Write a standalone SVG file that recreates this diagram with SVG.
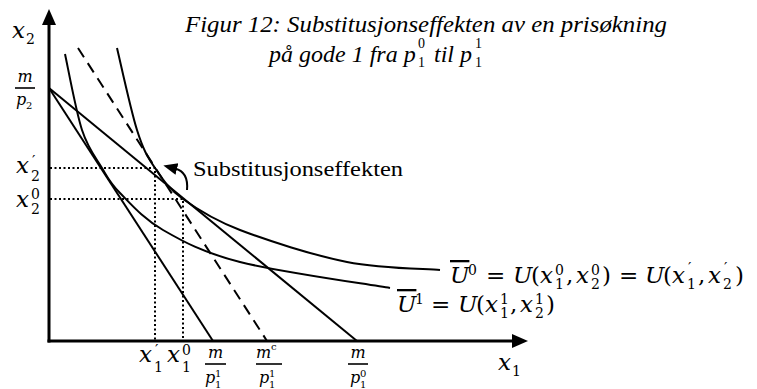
<svg xmlns="http://www.w3.org/2000/svg" width="757" height="389" viewBox="0 0 757 389">
<defs>
<marker id="ah" markerUnits="userSpaceOnUse" markerWidth="14" markerHeight="14" viewBox="0 0 14 14" refX="2" refY="7" orient="auto"><path d="M0,1 L14,7 L0,13 z" fill="#000"/></marker>
</defs>
<style>
text{font-family:'DejaVu Serif',serif;fill:#000}
.m{font-size:23px}
.i{font-style:italic}
.s{font-size:14px;font-style:normal}
.f{font-size:16px;font-style:italic}
.fs{font-size:10px;font-style:normal}
.ln{stroke:#000;stroke-width:2;fill:none}
.ax{stroke:#000;stroke-width:3;fill:none}
.bar{stroke:#000;stroke-width:1.6}
.dot{stroke:#000;stroke-width:2;stroke-dasharray:2 2.5;fill:none}
.dash{stroke:#000;stroke-width:2;stroke-dasharray:11 7;fill:none}
.ol{text-decoration:overline}
.lib{font-family:'Liberation Serif',serif}
</style>
<rect width="757" height="389" fill="#fff"/>

<g id="title">
<text class="i lib" font-size="24" x="185" y="32" textLength="482" lengthAdjust="spacingAndGlyphs">Figur 12: Substitusjonseffekten av en prisøkning</text>
<text class="i lib" font-size="24" y="62"><tspan x="269">på gode 1 fra p</tspan><tspan class="s" x="418" y="48">0</tspan><tspan class="s" x="418" y="67">1</tspan><tspan x="434" y="62">til p</tspan><tspan class="s" x="475" y="48">1</tspan><tspan class="s" x="475" y="67">1</tspan></text>
</g>

<g id="axes">
<line class="ax" x1="49" y1="22" x2="49" y2="342.5"/>
<line class="ax" x1="47.5" y1="341" x2="514" y2="341"/>
<polygon points="49,9 42,25 56,25" fill="#000"/>
<polygon points="528,341 512,334 512,348" fill="#000"/>
<text class="m i" x="12" y="38">x</text><text class="s" x="26" y="44">2</text>
<text class="m i" x="498" y="370">x</text><text class="s" x="512" y="376">1</text>
</g>

<g id="guides">
<polyline class="dot" points="50,168 155,168 155,340"/>
<polyline class="dot" points="50,199 183,199 183,340"/>
</g>

<g id="connectors">
<line id="budget0" class="ln" x1="49" y1="88" x2="357" y2="341"/>
<line id="budget1" class="ln" x1="49" y1="88" x2="213" y2="341"/>
<line id="compensated" class="dash" x1="78" y1="48" x2="267" y2="341"/>
<path id="U0" class="ln" d="M117,48 C120.3,61.7 130.7,110 137,130 C143.3,150 147.3,156.5 155,168 C162.7,179.5 168.8,188.7 183,199 C197.2,209.3 212.7,219.5 240,230 C267.3,240.5 313.7,255.3 347,262 C380.3,268.7 424.5,268.7 440,270"/>
<path id="U1" class="ln" d="M65,54 C67.8,66.7 75.8,111 82,130 C88.2,149 95.7,157.5 102,168 C108.3,178.5 109.8,182.7 120,193 C130.2,203.3 143,218.5 163,230 C183,241.5 202.2,252.3 240,262 C277.8,271.7 365,283.7 390,288"/>
<path id="subst-arrow" class="ln" d="M187,190 C188,179 185,171 175,168.5" marker-end="url(#ah)"/>
</g>

<g id="label-subst">
<text class="lib" font-size="21" x="193" y="176" textLength="210" lengthAdjust="spacingAndGlyphs">Substitusjonseffekten</text>
</g>

<g id="label-mp2">
<text class="f" x="25" y="82" text-anchor="middle">m</text>
<line class="bar" x1="15" y1="88" x2="35" y2="88"/>
<text class="f"><tspan x="16" y="105">p</tspan><tspan class="fs" x="26" y="109">2</tspan></text>
</g>

<g id="labels-y">
<text class="m"><tspan class="i" x="16" y="173">x</tspan><tspan font-size="15" x="32" y="166">′</tspan><tspan class="s" x="31" y="181">2</tspan></text>
<text class="m"><tspan class="i" x="16" y="207">x</tspan><tspan class="s" x="31" y="199">0</tspan><tspan class="s" x="31" y="214">2</tspan></text>
</g>

<g id="labels-x">
<text class="m"><tspan class="i" x="139" y="362">x</tspan><tspan font-size="15" x="155" y="355">′</tspan><tspan class="s" x="154" y="372">1</tspan></text>
<text class="m"><tspan class="i" x="167" y="362">x</tspan><tspan class="s" x="182" y="355">0</tspan><tspan class="s" x="182" y="372">1</tspan></text>
<text class="f" x="215.5" y="358" text-anchor="middle">m</text>
<line class="bar" x1="205" y1="364" x2="226" y2="364"/>
<text class="f"><tspan x="205" y="383">p</tspan><tspan class="fs" x="215" y="377">1</tspan><tspan class="fs" x="215" y="388">1</tspan></text>
<text class="f"><tspan x="256" y="358">m</tspan><tspan class="fs" x="271" y="350" font-style="italic">c</tspan></text>
<line class="bar" x1="256" y1="364" x2="282" y2="364"/>
<text class="f"><tspan x="259" y="383">p</tspan><tspan class="fs" x="269" y="377">1</tspan><tspan class="fs" x="269" y="388">1</tspan></text>
<text class="f" x="358" y="358" text-anchor="middle">m</text>
<line class="bar" x1="348" y1="364" x2="368" y2="364"/>
<text class="f"><tspan x="350" y="383">p</tspan><tspan class="fs" x="360" y="377">0</tspan><tspan class="fs" x="360" y="388">1</tspan></text>
</g>

<g id="label-U0">
<text class="m"><tspan class="i ol" x="450" y="283">U</tspan><tspan class="s" x="468" y="275">0</tspan><tspan x="486" y="283">=</tspan><tspan class="i" x="513" y="283">U</tspan><tspan x="531" y="283">(</tspan><tspan class="i" x="540" y="283">x</tspan><tspan class="s" x="555" y="275">0</tspan><tspan class="s" x="555" y="289">1</tspan><tspan x="566" y="283">,</tspan><tspan class="i" x="576" y="283">x</tspan><tspan class="s" x="591" y="275">0</tspan><tspan class="s" x="591" y="289">2</tspan><tspan x="602" y="283">)</tspan><tspan x="619" y="283">=</tspan><tspan class="i" x="645" y="283">U</tspan><tspan x="663" y="283">(</tspan><tspan class="i" x="672" y="283">x</tspan><tspan font-size="15" x="688" y="273">′</tspan><tspan class="s" x="687" y="289">1</tspan><tspan x="698" y="283">,</tspan><tspan class="i" x="708" y="283">x</tspan><tspan font-size="15" x="724" y="273">′</tspan><tspan class="s" x="723" y="289">2</tspan><tspan x="735" y="283">)</tspan></text>
</g>

<g id="label-U1">
<text class="m"><tspan class="i ol" x="397" y="312">U</tspan><tspan class="s" x="415" y="304">1</tspan><tspan x="431" y="312">=</tspan><tspan class="i" x="458" y="312">U</tspan><tspan x="476" y="312">(</tspan><tspan class="i" x="485" y="312">x</tspan><tspan class="s" x="500" y="304">1</tspan><tspan class="s" x="500" y="318">1</tspan><tspan x="510" y="312">,</tspan><tspan class="i" x="520" y="312">x</tspan><tspan class="s" x="535" y="304">1</tspan><tspan class="s" x="535" y="318">2</tspan><tspan x="546" y="312">)</tspan></text>
</g>
</svg>
